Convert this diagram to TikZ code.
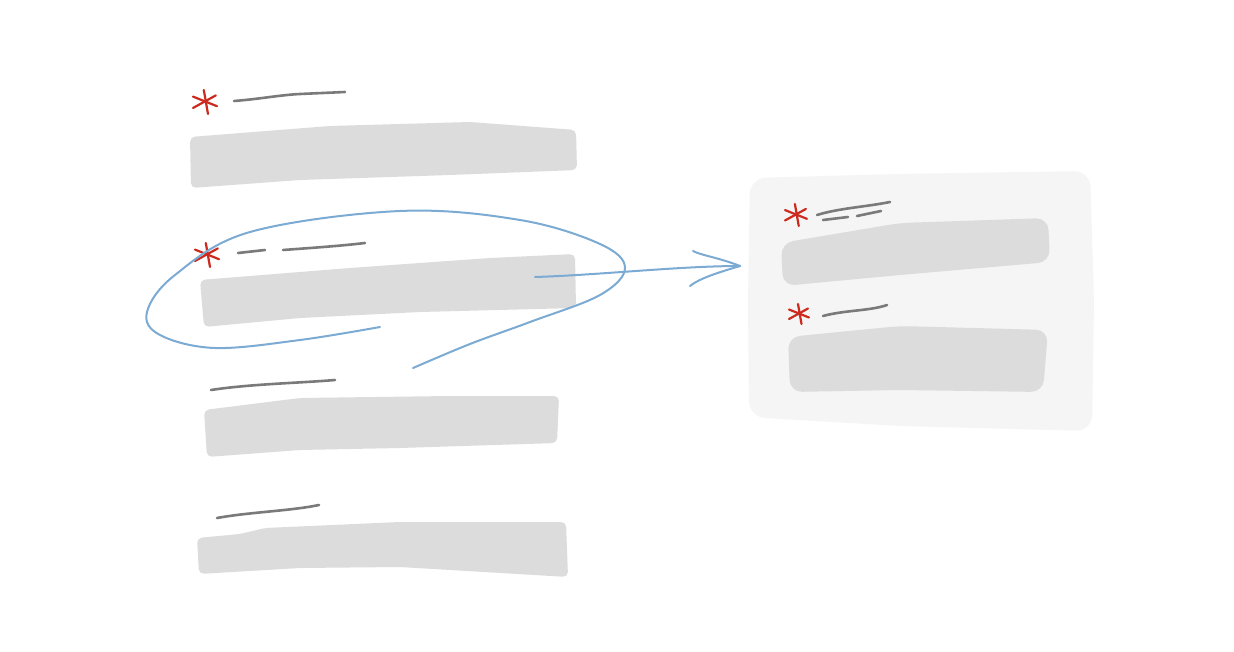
\documentclass[tikz,border=0pt]{standalone}
\begin{document}
\begin{tikzpicture}[x=1pt,y=-1pt,
  bar/.style={fill=barfill,rounded corners=5pt},
  lbl/.style={draw=lblgray,line width=2.6pt,line cap=round},
  star/.style={draw=starred,line width=2.2pt,line cap=round},
  pen/.style={draw=penblue,line width=2pt,line cap=round,line join=round}]
\definecolor{barfill}{HTML}{DCDCDC}
\definecolor{lblgray}{HTML}{7A7A7A}
\definecolor{starred}{HTML}{CC2A1E}
\definecolor{penblue}{HTML}{7BAAD3}
\definecolor{panel}{HTML}{F5F5F5}
\useasboundingbox[fill=white] (0,0) rectangle (1234,652);
% right panel
\fill[panel,rounded corners=16pt] (750,178) -- (900,174) -- (1090,171) -- (1094,300) -- (1092,431) -- (900,426) -- (749,417) -- (748,300) -- cycle;
% left bars
\fill[bar] (190,137) -- (330,126) -- (470,122) -- (576,130) -- (577,170) -- (450,175) -- (300,180) -- (191,188) -- cycle;
\fill[bar] (200,280) -- (350,268) -- (490,258) -- (575,254) -- (576,308) -- (420,312) -- (300,318) -- (204,327) -- cycle;
\fill[bar] (204,410) -- (300,398) -- (450,396) -- (559,396) -- (557,443) -- (400,448) -- (300,450) -- (207,457) -- cycle;
\fill[bar] (197,538) -- (240,534) -- (265,528) -- (400,522) -- (566,522) -- (568,577) -- (400,567) -- (300,568) -- (199,574) -- cycle;
% right bars
\fill[fill=barfill,rounded corners=12pt] (781,243) -- (900,223) -- (1048,218) -- (1050,262) -- (900,275) -- (783,286) -- cycle;
\fill[fill=barfill,rounded corners=12pt] (788,337) -- (900,326) -- (1048,330) -- (1043,392) -- (900,390) -- (790,392) -- cycle;
% labels
\draw[lbl] (234,101) .. controls (260,99) and (280,95) .. (300,94) -- (345,92);
\draw[lbl] (238,253) -- (265,250);
\draw[lbl] (283,250) .. controls (310,248) and (340,246) .. (365,243);
\draw[lbl] (211,390) .. controls (250,384) and (300,383) .. (335,380);
\draw[lbl] (217,518) .. controls (250,512) and (290,511) .. (319,505);
\draw[lbl] (817,215) .. controls (840,208) and (865,207) .. (890,202);
\draw[lbl] (823,220) -- (848,217);
\draw[lbl] (857,216) -- (881,211);
\draw[lbl] (823,316) .. controls (845,310) and (870,311) .. (887,305);
% asterisks
\foreach \cx/\cy/\r in {205/102/12, 207/255/12, 796/215/11, 799/314/10}{
  \draw[star] (\cx-0.1*\r,\cy-\r) -- (\cx+0.25*\r,\cy+\r);
  \draw[star] (\cx-\r,\cy-0.45*\r) -- (\cx+\r,\cy+0.35*\r);
  \draw[star] (\cx-\r,\cy+0.5*\r) -- (\cx+0.9*\r,\cy-0.55*\r);
}
% blue loop
\draw[pen] plot[smooth,tension=0.6] coordinates{(380,327) (300,340) (215,348) (160,335) (147,312) (175,275) (250,232) (400,211) (520,220) (600,244) (625,268) (600,295) (530,322) (470,344) (413,368)};
% arrow
\coordinate (as) at (535,277);
\coordinate (ae) at (740,266);
\draw[pen] (as) .. controls (600,275) and (680,266) .. (ae);
\draw[pen] (693,251) .. controls (700,255) and (720,258) .. (ae) .. controls (720,272) and (700,278) .. (690,286);
\end{tikzpicture}
\end{document}
